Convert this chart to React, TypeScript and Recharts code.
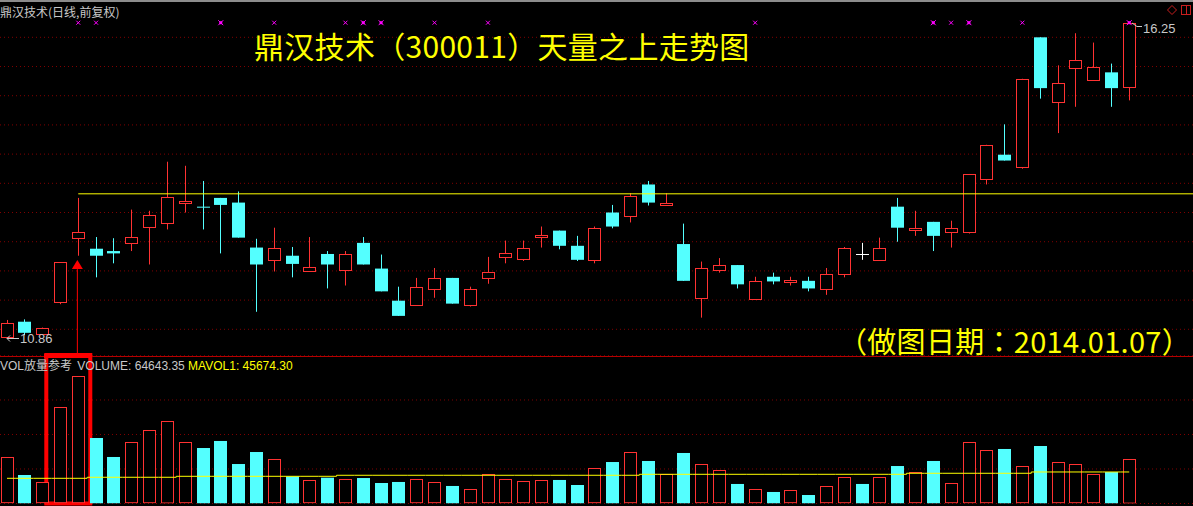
import React from 'react';
import { ComposedChart, Bar, Line, Scatter, XAxis, YAxis, CartesianGrid, ReferenceLine, ReferenceArea, ReferenceDot } from 'recharts';

// daily bars, oldest first (prices)
const opens = [10.87, 11.13, 10.93, 11.47, 12.55, 12.38, 12.34, 12.47, 12.76, 12.83, 13.17, 13.10, 13.25, 13.17, 12.40, 12.18,
  12.26, 12.01, 12.29, 12.01, 12.48, 12.04, 11.49, 11.42, 11.69, 11.88, 11.42, 11.87, 12.23, 12.21, 12.57, 12.69,
  12.43, 12.18, 13.00, 12.93, 13.48, 13.13, 12.46, 11.53, 12.02, 12.10, 11.52, 11.90, 11.82, 11.83, 11.69, 11.94,
  12.29, 12.19, 13.10, 12.71, 12.84, 12.66, 12.66, 13.58, 13.99, 13.79, 16.00, 14.89, 15.49, 15.28, 15.40, 15.16];
const highs = [11.16, 11.17, 11.03, 12.15, 13.25, 12.58, 12.56, 13.05, 13.03, 13.87, 13.80, 13.54, 13.25, 13.36, 12.55, 12.74,
  12.41, 12.58, 12.34, 12.34, 12.58, 12.28, 11.73, 11.88, 12.05, 11.88, 11.73, 12.24, 12.52, 12.52, 12.76, 12.69,
  12.60, 12.76, 13.13, 13.33, 13.54, 13.33, 12.81, 12.16, 12.22, 12.10, 11.90, 11.97, 11.90, 11.90, 12.05, 12.41,
  12.48, 12.57, 13.25, 13.03, 12.84, 12.86, 13.66, 14.16, 14.51, 15.29, 16.00, 15.52, 16.07, 15.91, 15.55, 16.25];
const lows = [10.86, 10.90, 10.93, 11.43, 12.26, 11.89, 12.13, 12.34, 12.11, 12.71, 13.00, 12.71, 12.30, 12.57, 11.30, 11.99,
  11.89, 11.99, 11.70, 11.75, 12.11, 11.65, 11.23, 11.42, 11.54, 11.44, 11.39, 11.78, 12.13, 12.17, 12.40, 12.37,
  12.17, 12.13, 12.73, 12.83, 13.12, 13.13, 11.83, 11.20, 11.97, 11.70, 11.52, 11.77, 11.75, 11.65, 11.59, 11.89,
  12.19, 12.19, 12.50, 12.60, 12.34, 12.40, 12.64, 13.48, 13.89, 13.75, 14.95, 14.36, 14.81, 15.28, 14.81, 14.92];
const closes = [11.11, 10.94, 11.03, 12.15, 12.66, 12.26, 12.30, 12.58, 12.96, 13.27, 13.20, 13.09, 13.13, 12.57, 12.11, 12.39,
  12.12, 12.07, 12.11, 12.29, 12.11, 11.65, 11.23, 11.72, 11.88, 11.44, 11.69, 11.98, 12.30, 12.39, 12.61, 12.43,
  12.19, 12.73, 12.76, 13.28, 13.17, 13.16, 11.83, 12.05, 12.10, 11.77, 11.82, 11.82, 11.85, 11.70, 11.94, 12.39,
  12.29, 12.39, 12.74, 12.74, 12.60, 12.73, 13.66, 14.16, 13.89, 15.29, 15.13, 15.22, 15.62, 15.50, 15.13, 16.25];
const volumes = [66900, 41300, 30700, 139400, 184300, 94900, 67400, 88700, 106100, 119500, 88700, 80400, 90600, 57200, 74600, 64000,
  39400, 33600, 37400, 35100, 36900, 29700, 31200, 35100, 30700, 25400, 20600, 42300, 35100, 32200, 33600, 34100,
  26800, 51000, 60100, 74200, 61600, 42300, 73200, 56800, 48100, 28300, 20600, 16700, 19100, 12300, 24900, 38000,
  28300, 38000, 54300, 45200, 61600, 29300, 88700, 77100, 79000, 53900, 83300, 59700, 56800, 42300, 45600, 64643.35];
const maVol = [36500, 36500, 36500, 36500, 36500, 38000, 38000, 38000, 38000, 38000, 39400, 39400, 39400, 39400, 39400, 39400,
  39400, 39400, 39400, 40900, 40900, 40900, 40900, 40900, 40900, 40900, 40900, 40900, 40900, 40900, 40900, 40900,
  40900, 40900, 40900, 40900, 42300, 42300, 42300, 42300, 42300, 42300, 42300, 42300, 42300, 42300, 42300, 42300,
  42300, 42300, 42300, 43800, 43800, 43800, 43800, 43800, 43800, 43800, 45674.3, 45674.3, 45674.3, 45674.3, 45674.3, 45674.3];

const bigMarks = [12, 20, 21, 52, 54, 63];
const smallMarks = [4, 5, 15, 19, 24, 27, 42, 53, 57];
const markLevel = 16.25;
const priceGrid = [11, 11.5, 12, 12.5, 13, 13.5, 14, 14.5, 15, 15.5, 16];
const volGrid = [50000, 100000, 150000];
const breakoutIndex = 4;
const breakoutLevel = 13.32;

const RED = '#ff3232';
const CYAN = '#54ffff';
const GRID = '#800000';
const CJK = '"Noto Sans CJK SC", sans-serif';
const CJK_TITLE = '"Noto Sans CJK TC", "Noto Sans CJK SC", sans-serif';
const LATIN = '"Liberation Sans", "Noto Sans CJK SC", sans-serif';

const X_DOMAIN: [number, number] = [-0.393, 66.58];
const PRICE_DOMAIN: [number, number] = [10.543, 16.639];
const VOL_TOP = 213727;

const candles = opens.map((open, i) => ({
  i,
  open,
  high: highs[i],
  low: lows[i],
  close: closes[i],
  prevClose: i > 0 ? closes[i - 1] : open,
  vol: volumes[i],
  ma: maVol[i],
}));

const Candle = (props: any) => {
  const { x, y, width, height, payload } = props;
  const { open, high, low, close } = payload;
  const top = Math.min(y, y + height);
  const h = Math.abs(height);
  const yOf = (p: number) => top + ((high - p) / (high - low)) * h;
  const cx = Math.round(x + width / 2) + 0.5;
  const yh = yOf(high);
  const yl = yOf(low);
  const yTop = yOf(Math.max(open, close));
  const yBot = yOf(Math.min(open, close));
  if (close > open) {
    const rTop = Math.round(yTop) + 0.5;
    const rH = Math.max(1, Math.round(yBot - yTop));
    return (
      <g>
        <line x1={cx} x2={cx} y1={yh} y2={rTop} stroke={RED} />
        <line x1={cx} x2={cx} y1={rTop + rH} y2={yl} stroke={RED} />
        <rect x={cx - 6} y={rTop} width={12} height={rH} fill="#000" stroke={RED} />
      </g>
    );
  }
  if (close < open) {
    return (
      <g>
        <line x1={cx} x2={cx} y1={yh} y2={yl} stroke={CYAN} />
        <rect x={cx - 6.5} y={yTop} width={13} height={Math.max(1, yBot - yTop)} fill={CYAN} />
      </g>
    );
  }
  const yc = Math.round(yTop) + 0.5;
  return (
    <g>
      <line x1={cx} x2={cx} y1={yh} y2={yl} stroke="#ffffff" />
      <line x1={cx - 6.5} x2={cx + 6.5} y1={yc} y2={yc} stroke="#ffffff" />
    </g>
  );
};

const volIsUp = (d: any) => (d.close > d.open ? true : d.close < d.open ? false : d.close >= d.prevClose);

const VolBar = (props: any) => {
  const { x, y, width, height, payload } = props;
  const cx = Math.round(x + width / 2) + 0.5;
  const top = Math.min(y, y + height);
  const h = Math.abs(height);
  if (volIsUp(payload)) {
    return <rect x={cx - 6} y={Math.round(top) + 0.5} width={12} height={Math.max(1, h - 1)} fill="#000" stroke={RED} />;
  }
  return <rect x={cx - 6.5} y={top} width={13} height={h} fill={CYAN} />;
};

const Mark = (big: boolean) => (props: any) => {
  const { cx, cy } = props;
  const r = big ? 2.5 : 2;
  return (
    <g stroke="#ff00ff" fill="#ff00ff">
      <line x1={cx - r} y1={cy - r} x2={cx + r} y2={cy + r} />
      <line x1={cx - r} y1={cy + r} x2={cx + r} y2={cy - r} />
      {big && <rect x={cx - 1.5} y={cy - 1.5} width={3} height={3} stroke="none" />}
    </g>
  );
};

const Triangle = (props: any) => {
  const { cx, cy } = props;
  return <path d={`M${cx},${cy - 5} L${cx + 5.5},${cy + 4} L${cx - 5.5},${cy + 4} Z`} fill="#ff0000" />;
};

const abs = (left: number, top: number): React.CSSProperties => ({ position: 'absolute', left, top, whiteSpace: 'nowrap' });

export default function App() {
  return (
    <div style={{ position: 'absolute', left: 0, top: 0, width: 1193, height: 506, background: '#000', overflow: 'hidden' }}>
      <div style={{ ...abs(0, 0) }}>
        <ComposedChart width={1193} height={356} data={candles} margin={{ top: 0, right: 0, bottom: 0, left: 0 }}>
          <XAxis type="number" dataKey="i" domain={X_DOMAIN} hide allowDataOverflow />
          <YAxis type="number" domain={PRICE_DOMAIN} ticks={priceGrid} interval={0} hide allowDataOverflow />
          <CartesianGrid vertical={false} stroke={GRID} strokeDasharray="1 3" />
          <ReferenceLine segment={[{ x: breakoutIndex, y: breakoutLevel }, { x: X_DOMAIN[1], y: breakoutLevel }]} stroke="#ffff00" />
          <ReferenceLine segment={[{ x: breakoutIndex - 0.05, y: 12.03 }, { x: breakoutIndex - 0.05, y: PRICE_DOMAIN[0] }]} stroke="#ff0000" />
          <ReferenceDot x={breakoutIndex - 0.05} y={12.1} shape={Triangle} />
          <Bar dataKey={(d: any) => [d.low, d.high]} barSize={13} shape={Candle} isAnimationActive={false} />
          <Scatter data={bigMarks.map((i) => ({ i, y: markLevel }))} dataKey="y" shape={Mark(true)} isAnimationActive={false} />
          <Scatter data={smallMarks.map((i) => ({ i, y: markLevel }))} dataKey="y" shape={Mark(false)} isAnimationActive={false} />
        </ComposedChart>
      </div>

      <div style={{ ...abs(0, 350) }}>
        <ComposedChart width={1193} height={156} data={candles} margin={{ top: 6, right: 0, bottom: 2.5, left: 0 }}>
          <XAxis type="number" dataKey="i" domain={X_DOMAIN} hide allowDataOverflow />
          <YAxis type="number" domain={[0, VOL_TOP]} ticks={volGrid} interval={0} hide allowDataOverflow />
          <CartesianGrid vertical={false} stroke={GRID} strokeDasharray="1 3" />
          <Bar dataKey="vol" barSize={13} shape={VolBar} isAnimationActive={false} />
          <Line dataKey="ma" type="step" stroke="#ffff00" strokeWidth={1} dot={false} activeDot={false} isAnimationActive={false} />
          <ReferenceArea x1={2.206} x2={4.676} y1={0} y2={VOL_TOP + 1449} fill="none" fillOpacity={0} stroke="#ff0000" strokeWidth={4} ifOverflow="visible" />
        </ComposedChart>
      </div>

      <div style={{ ...abs(0, 0), width: 1193, height: 2, background: '#8c8c8c' }} />
      <div style={{ ...abs(0, 6), fontFamily: CJK, fontSize: 12, lineHeight: '12px', color: '#c8c8c8' }}>鼎汉技术(日线,前复权)</div>
      <div style={{ ...abs(254, 30), fontFamily: CJK_TITLE, fontSize: 30, lineHeight: '30px', letterSpacing: 0.3, color: '#ffff00' }}>鼎汉技术（300011）天量之上走势图</div>
      <div style={{ ...abs(838, 326), fontFamily: CJK_TITLE, fontSize: 29, lineHeight: '29px', letterSpacing: 0.3, color: '#ffff00' }}>（做图日期：2014.01.07）</div>
      <div style={{ ...abs(20, 331.5), fontFamily: LATIN, fontSize: 13, lineHeight: '13px', color: '#c8c8c8' }}>10.86</div>
      <div style={{ ...abs(1143, 22.4), fontFamily: LATIN, fontSize: 13, lineHeight: '13px', color: '#c8c8c8' }}>16.25</div>
      <svg style={{ position: 'absolute', left: 0, top: 0 }} width={1193} height={356}>
        <g stroke="#c8c8c8" fill="none">
          <path d="M7,338.5 L19,338.5 M7,338.5 L10,335.5 M7,338.5 L10,341.5" />
          <path d="M1132,23 L1137,26.5 L1142,26.5" />
        </g>
        <g stroke="#c81e1e" fill="none">
          <path d="M1172,5.5 L1176.5,10 L1172,14.5 L1167.5,10 Z" />
          <rect x={1181.5} y={5.5} width={9} height={9} />
          <line x1={1186.5} x2={1186.5} y1={5.5} y2={14.5} />
        </g>
      </svg>

      <div style={{ ...abs(0, 356), width: 1193, height: 1, background: '#b40000' }} />
      <div style={{ ...abs(44, 354), width: 48, height: 4, background: '#ff0000' }} />

      <div style={{ ...abs(0, 359.5), fontFamily: LATIN, fontSize: 12, lineHeight: '12px', color: '#c8c8c8' }}>
        VOL放量参考 <span style={{ marginLeft: 2 }}>VOLUME: 64643.35</span>{' '}
        <span style={{ color: '#ffff00' }}>MAVOL1: 45674.30</span>
      </div>
    </div>
  );
}
